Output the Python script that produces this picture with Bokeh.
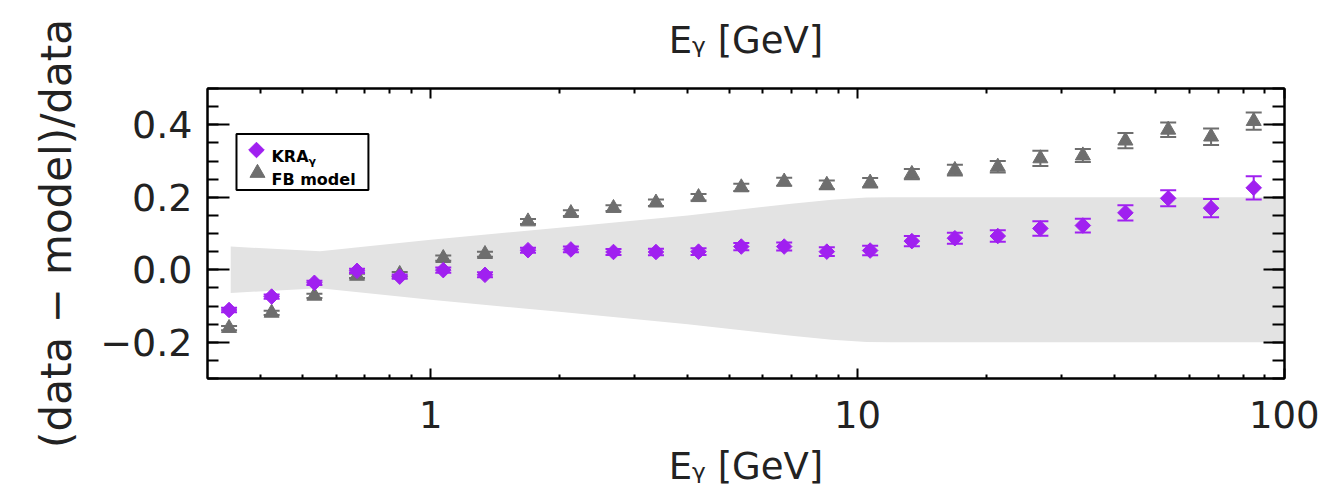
import numpy as np
from math import pi, log10
from bokeh.plotting import figure
from bokeh.models import (Range1d, LogAxis, LinearAxis, FixedTicker,
                          CustomJSTickFormatter, ColumnDataSource, Label)
from bokeh.embed import file_html
from bokeh.resources import INLINE

# ---------------- data ----------------
energy = [0.337, 0.424, 0.534, 0.672, 0.846, 1.07, 1.34, 1.69, 2.13, 2.68, 3.37, 4.24, 5.34,
          6.73, 8.47, 10.7, 13.4, 16.9, 21.3, 26.8, 33.7, 42.4, 53.4, 67.3, 84.7]
kra = [-0.111, -0.074, -0.036, -0.003, -0.019, -0.001, -0.014, 0.054, 0.056, 0.049, 0.049, 0.050,
       0.064, 0.064, 0.050, 0.053, 0.079, 0.087, 0.093, 0.114, 0.122, 0.157, 0.197, 0.170, 0.226]
kra_err = [0.006, 0.006, 0.006, 0.006, 0.006, 0.007, 0.007, 0.007, 0.008, 0.008, 0.009, 0.009,
           0.010, 0.011, 0.012, 0.013, 0.014, 0.015, 0.016, 0.020, 0.019, 0.021, 0.022, 0.025, 0.032]
fb = [-0.161, -0.119, -0.072, -0.017, -0.012, 0.032, 0.043, 0.133, 0.156, 0.170, 0.185, 0.200,
      0.227, 0.243, 0.234, 0.240, 0.264, 0.275, 0.284, 0.307, 0.315, 0.356, 0.386, 0.367, 0.410]
fb_err = [0.006, 0.006, 0.006, 0.006, 0.006, 0.007, 0.007, 0.007, 0.008, 0.008, 0.009, 0.009,
          0.010, 0.011, 0.012, 0.013, 0.014, 0.015, 0.016, 0.021, 0.018, 0.021, 0.020, 0.023, 0.024]
band_energy = [0.34, 0.55, 1.0, 2.0, 4.0, 7.0, 8.7, 10.5, 12.0, 100.0]
band_half = [0.064, 0.051, 0.083, 0.116, 0.150, 0.182, 0.193, 0.199, 0.200, 0.200]
x_major = [1, 10, 100]
x_minor = [0.4, 0.5, 0.6, 0.7, 0.8, 0.9, 2, 3, 4, 5, 6, 7, 8, 9, 20, 30, 40, 50, 60, 70, 80, 90]
y_major = [-0.2, 0.0, 0.2, 0.4]
y_minor = [round(v, 2) for v in np.arange(-0.3, 0.5001, 0.05)]
legend_labels = ["KRA", "\u03b3", "FB model"]
x_label = "E\u1d67 [GeV]"
y_label = "(data \u2212 model)/data"

KRA_COLOR = "#a020f0"
FB_COLOR = "#6e6e6e"
BAND_COLOR = "#e3e3e3"
FONT = "DejaVu Sans"
TXT = "#222222"

# ---------------- figure ----------------
W, H = 1319, 493
XMIN, XMAX, YMIN, YMAX = 0.3, 100.0, -0.3, 0.5
p = figure(width=W, height=H, x_axis_type="log",
           x_range=Range1d(XMIN, XMAX), y_range=Range1d(YMIN, YMAX),
           output_backend="svg", toolbar_location=None,
           min_border_left=207, min_border_right=35, min_border_top=88, min_border_bottom=115)
p.xgrid.visible = False
p.ygrid.visible = False
p.outline_line_color = "black"
p.outline_line_width = 2
p.background_fill_color = "white"
p.border_fill_color = "white"

# reference-pixel helpers (legend placement only)
FL, FR, FT, FB_ = 207.0, 1284.5, 88.5, 378.5
def X(px):
    return 10 ** (log10(XMIN) + (px - FL) / (FR - FL) * (log10(XMAX) - log10(XMIN)))
def Y(py):
    return YMIN + (FB_ - py) / (FB_ - FT) * (YMAX - YMIN)

xticker = FixedTicker(ticks=x_major, minor_ticks=x_minor)
yticker = FixedTicker(ticks=y_major, minor_ticks=y_minor)

def style(ax, mj, mn):
    ax.major_tick_in = mj
    ax.major_tick_out = 0
    ax.minor_tick_in = mn
    ax.minor_tick_out = 0
    ax.major_tick_line_width = 2
    ax.minor_tick_line_width = 2
    ax.major_tick_line_color = "black"
    ax.minor_tick_line_color = "black"
    ax.axis_line_color = "black"
    ax.axis_line_width = 2

def title_style(ax, standoff):
    ax.axis_label_text_font = FONT
    ax.axis_label_text_font_size = "37px"
    ax.axis_label_text_font_style = "normal"
    ax.axis_label_text_color = TXT
    ax.axis_label_standoff = standoff

bx = p.below[0]
bx.ticker = xticker
bx.formatter = CustomJSTickFormatter(code="return tick.toFixed(0);")
style(bx, 10, 4)
bx.major_label_text_font = FONT
bx.major_label_text_font_size = "37px"
bx.major_label_text_color = TXT
bx.major_label_standoff = 22
bx.axis_label = x_label
title_style(bx, 14)

ly = p.left[0]
ly.ticker = yticker
ly.formatter = CustomJSTickFormatter(
    code="if (Math.abs(tick) < 1e-9) { return '0.0'; } return (tick < 0 ? '\\u2212' : '') + Math.abs(tick).toFixed(1);")
style(ly, 22, 11)
ly.major_label_text_font = FONT
ly.major_label_text_font_size = "38px"
ly.major_label_text_color = TXT
ly.major_label_standoff = 15
ly.axis_label = y_label
ly.axis_label_text_font = FONT
ly.axis_label_text_font_size = "42px"
ly.axis_label_text_font_style = "normal"
ly.axis_label_text_color = TXT
ly.axis_label_standoff = 16

# top axis: inward ticks, and the axis title of the panel above
top_ax = LogAxis(ticker=xticker, major_label_text_font_size="1px",
                 formatter=CustomJSTickFormatter(code="return '';"))
style(top_ax, 10, 5)
top_ax.major_label_standoff = 0
top_ax.axis_label = x_label
title_style(top_ax, 27)
p.add_layout(top_ax, "above")

right_ax = LinearAxis(ticker=yticker, major_label_text_font_size="1px",
                      formatter=CustomJSTickFormatter(code="return '';"))
style(right_ax, 21, 12)
right_ax.major_label_standoff = 0
p.add_layout(right_ax, "right")

# ---------------- band ----------------
p.varea(x=band_energy, y1=[-h for h in band_half], y2=band_half, fill_color=BAND_COLOR)

# ---------------- data points ----------------
src = ColumnDataSource(dict(
    energy=energy, kra=kra, fb=fb,
    kra_lo=[v - e for v, e in zip(kra, kra_err)], kra_hi=[v + e for v, e in zip(kra, kra_err)],
    fb_lo=[v - e for v, e in zip(fb, fb_err)], fb_hi=[v + e for v, e in zip(fb, fb_err)],
))

def errbars(lo, hi, color):
    p.segment(x0="energy", y0=lo, x1="energy", y1=hi, source=src, line_color=color, line_width=2)
    p.scatter(x="energy", y=lo, source=src, marker="dash", size=16, line_color=color, line_width=2)
    p.scatter(x="energy", y=hi, source=src, marker="dash", size=16, line_color=color, line_width=2)

errbars("fb_lo", "fb_hi", FB_COLOR)
p.scatter(x="energy", y="fb", source=src, marker="triangle", size=15,
          fill_color=FB_COLOR, line_color=FB_COLOR)
errbars("kra_lo", "kra_hi", KRA_COLOR)
p.scatter(x="energy", y="kra", source=src, marker="square", angle=pi / 4, size=11,
          fill_color=KRA_COLOR, line_color=KRA_COLOR)

# ---------------- legend ----------------
p.quad(left=[X(236)], right=[X(368)], top=[Y(134)], bottom=[Y(190)],
       fill_color=None, line_color="black", line_width=2)
p.scatter(x=[X(256)], y=[Y(150)], marker="square", angle=pi / 4, size=11,
          fill_color=KRA_COLOR, line_color=KRA_COLOR)
p.scatter(x=[X(257)], y=[Y(173)], marker="triangle", size=15,
          fill_color=FB_COLOR, line_color=FB_COLOR)
p.add_layout(Label(x=X(271), y=Y(156), text=legend_labels[0], text_font=FONT, text_font_size="16px",
                   text_font_style="bold", text_color="black", text_baseline="alphabetic"))
p.add_layout(Label(x=X(308), y=Y(161), text=legend_labels[1], text_font=FONT, text_font_size="11px",
                   text_font_style="bold", text_color="black", text_baseline="alphabetic"))
p.add_layout(Label(x=X(271), y=Y(179), text=legend_labels[2], text_font=FONT, text_font_size="16px",
                   text_font_style="bold", text_color="black", text_baseline="alphabetic"))

open("out.html", "w", encoding="utf-8").write(file_html(p, INLINE))
